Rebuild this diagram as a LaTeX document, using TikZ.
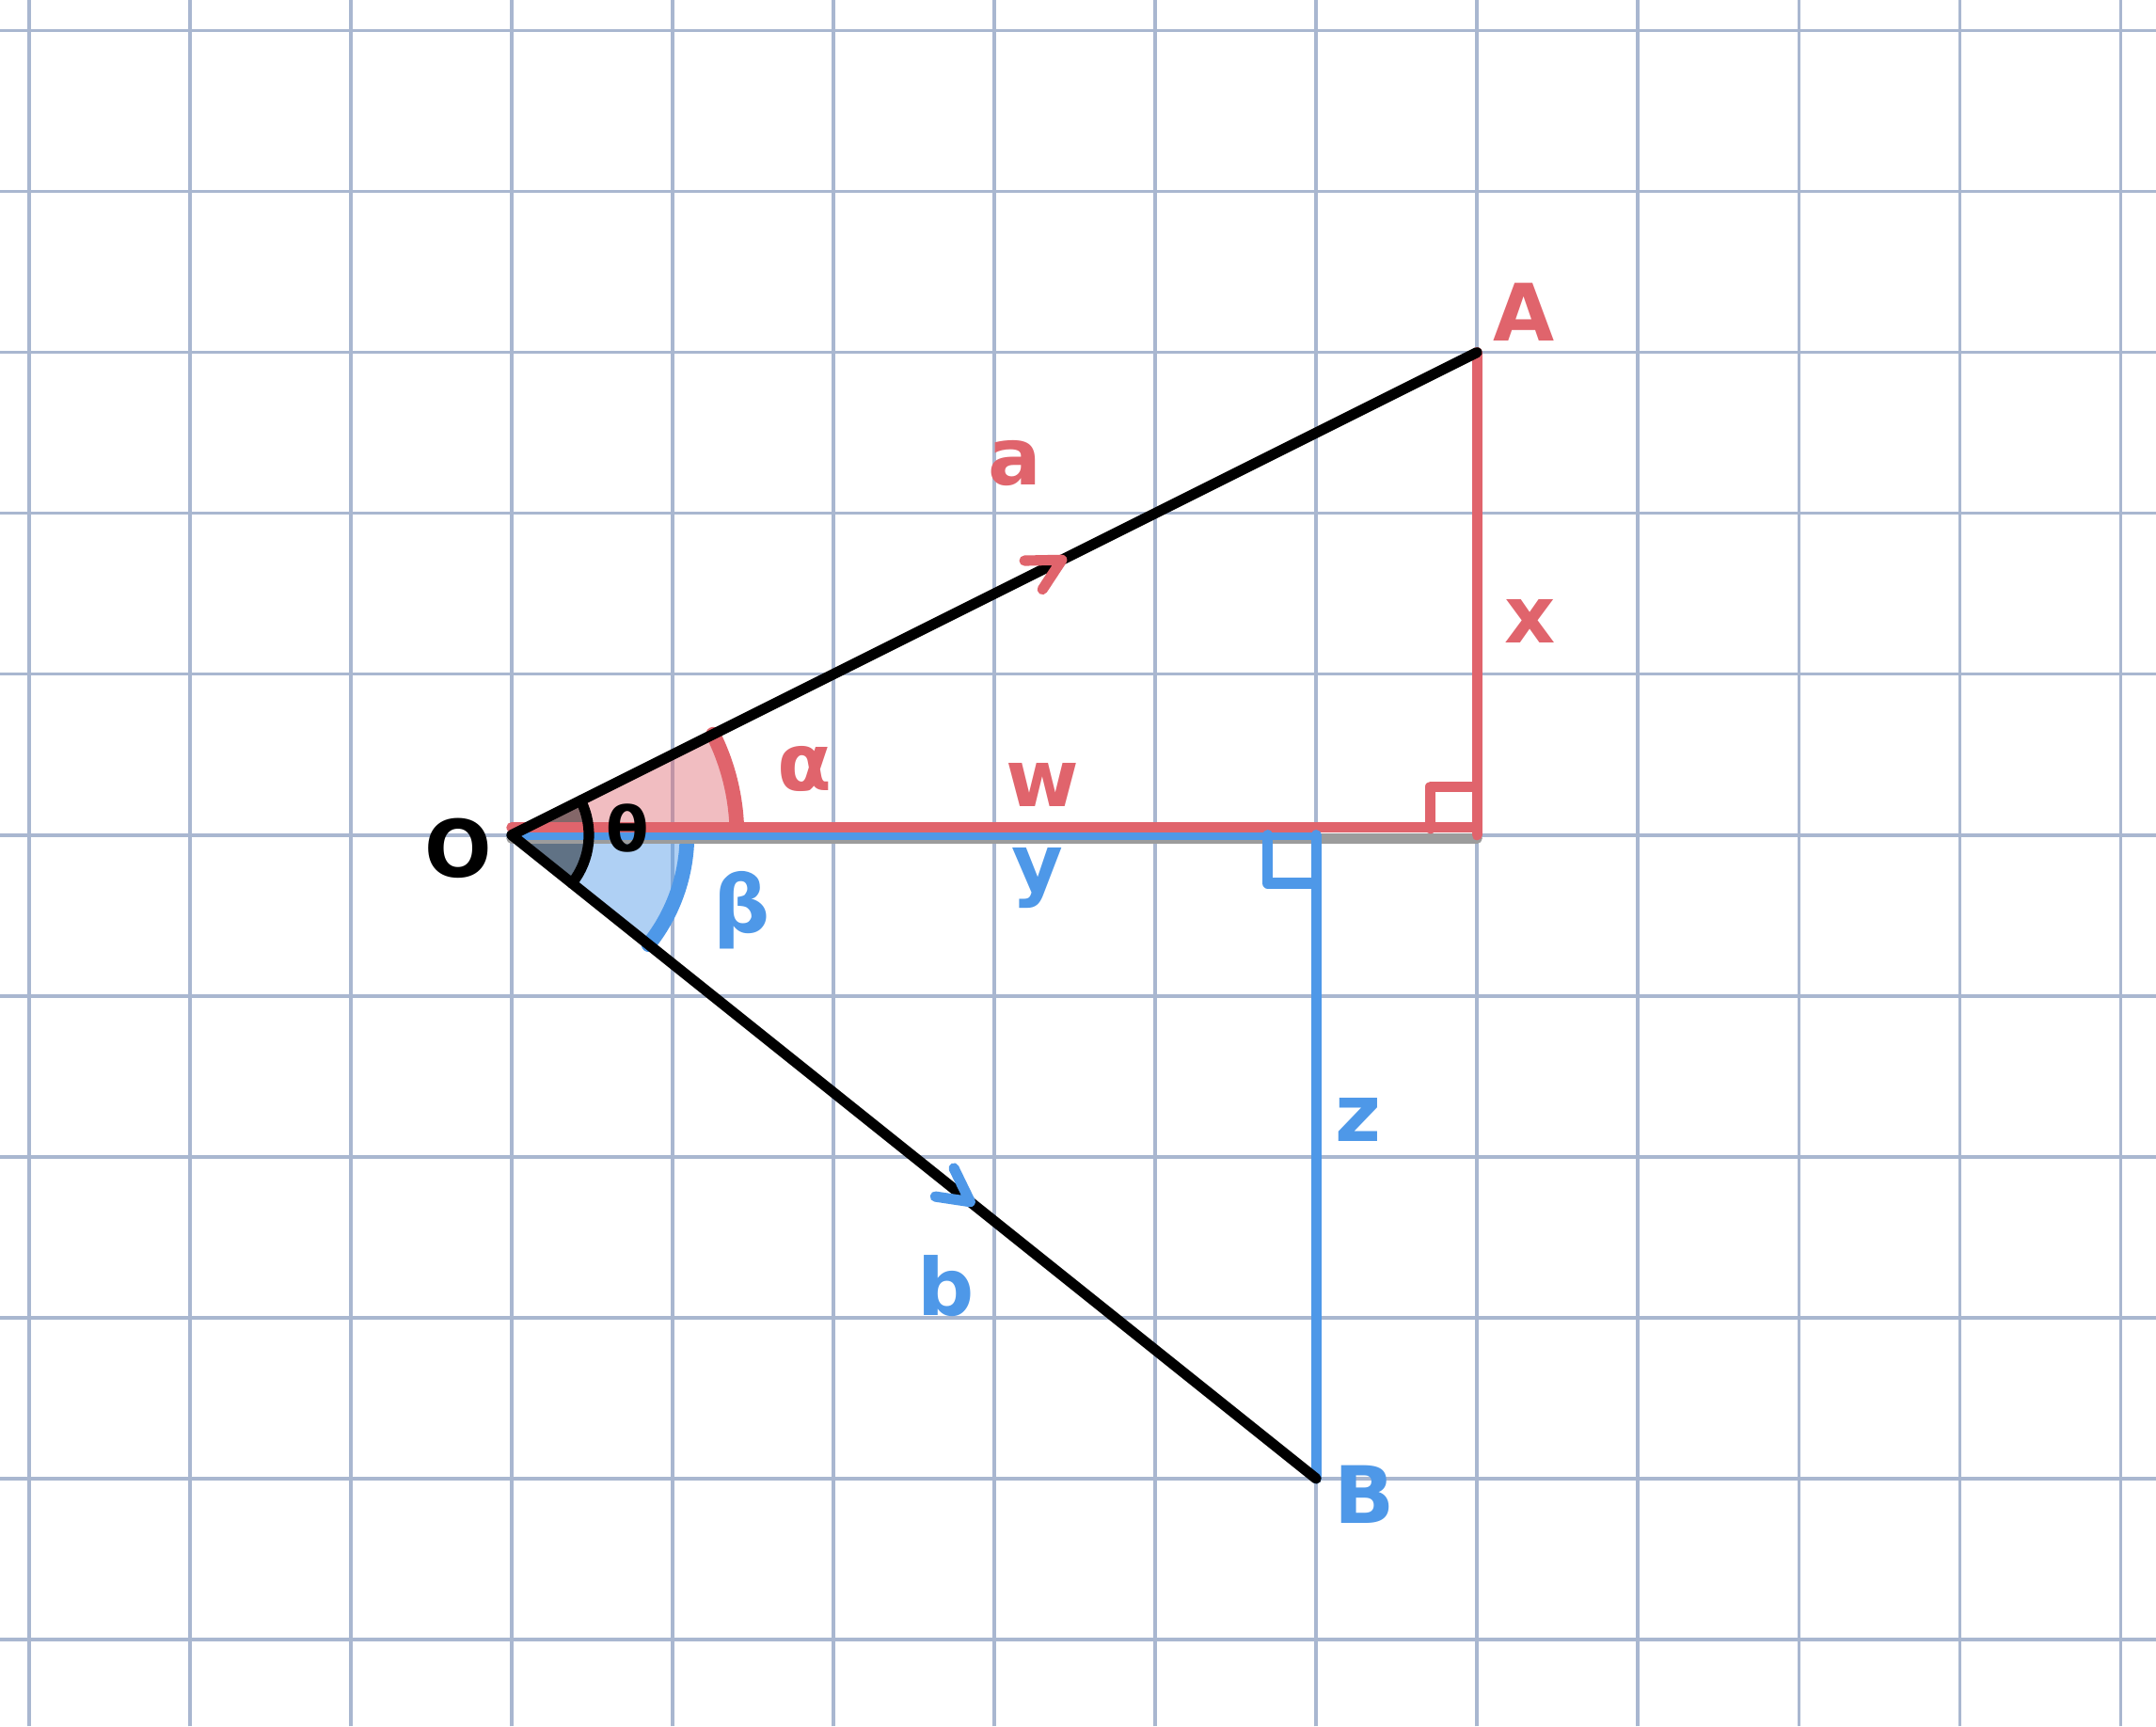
\documentclass[tikz,border=0pt]{standalone}
\usepackage{fontspec}
\setmainfont{DejaVu Sans}
\usepackage{xcolor}
\usetikzlibrary{angles,decorations.markings}
\definecolor{INKred}{HTML}{E0646C}
\definecolor{INKblue}{HTML}{4E98E8}
\definecolor{INKgrid}{HTML}{A9B7D0}
\definecolor{INKgrey}{HTML}{9C9C9C}
\tikzset{
  gridline/.style={draw=INKgrid, line width=0.6pt},
  pen/.style={line width=1.85pt, line cap=round, line join=round},
  vecline/.style={pen, draw=black},
  redpen/.style={pen, draw=INKred},
  bluepen/.style={pen, draw=INKblue},
  greypen/.style={pen, draw=INKgrey},
  lbl/.style={font=\fontsize{14}{16}\selectfont\bfseries, inner sep=1pt},
  redlbl/.style={lbl, text=INKred},
  bluelbl/.style={lbl, text=INKblue},
  vecarrow/.style={postaction={decorate, decoration={markings, mark=at position 0.57 with {\draw[pen, draw=#1] (-0.21,0.1) -- (0,0) -- (-0.19,-0.11);}}}},
  alphafill/.style={fill=INKred, fill opacity=0.42, angle radius=1.4cm},
  alphaarc/.style={redpen, line width=2.6pt, angle radius=1.4cm},
  betafill/.style={fill=INKblue, fill opacity=0.45, angle radius=1.09cm},
  betaarc/.style={bluepen, line width=2.6pt, angle radius=1.09cm},
  thetafill/.style={fill=black, fill opacity=0.45, angle radius=0.48cm},
  thetaarc/.style={vecline, angle radius=0.48cm}
}

\begin{document}
\begin{tikzpicture}
  \fill[white] (-0.18,-0.54) rectangle (13.22,10.19);
  \useasboundingbox (-0.18,-0.54) rectangle (13.22,10.19);
  \draw[gridline, step=1cm] (-0.18,-0.54) grid (13.22,10.19);

  % points
  \coordinate (O) at (3,5);
  \coordinate (A) at (9,8);
  \coordinate (B) at (8,1);
  \coordinate (Af) at (9,5);
  \coordinate (Bf) at (8,5);

  % angles
  \pic[alphafill] {angle = Af--O--A};
  \pic[betafill] {angle = B--O--Bf};
  \pic[thetafill] {angle = B--O--A};
  \pic[alphaarc] {angle = Af--O--A};
  \pic[betaarc] {angle = B--O--Bf};

  % projections
  \draw[greypen] ([yshift=-0.02cm]O) -- ([yshift=-0.02cm]Af);
  \draw[bluepen] (O) -- (Bf);
  \draw[redpen] ([yshift=0.047cm]O) -- ([yshift=0.047cm]Af);
  \draw[redpen] (A) -- (Af);
  \draw[bluepen] (Bf) -- (B);
  \draw[redpen] ([yshift=0.3cm]Af) -| ([xshift=-0.29cm,yshift=0.04cm]Af);
  \draw[bluepen] ([yshift=-0.3cm]Bf) -| ([xshift=-0.3cm]Bf);

  \pic[thetaarc] {angle = B--O--A};

  % vectors
  \draw[vecline, vecarrow=INKred] (O) -- (A);
  \draw[vecline, vecarrow=INKblue] (O) -- (B);

  % labels
  \node[lbl, font=\fontsize{11}{13}\selectfont\bfseries] (ltheta) at (3.72,5.04) {θ};
  \node[lbl] (lO) at (2.67,4.92) {O};
  \node[redlbl] (lalpha) at (4.82,5.41) {α};
  \node[bluelbl] (lbeta) at (4.43,4.53) {β};
  \node[redlbl] (la) at (6.13,7.31) {a};
  \node[redlbl] (lx) at (9.33,6.33) {x};
  \node[redlbl] (lw) at (6.30,5.31) {w};
  \node[bluelbl] (ly) at (6.27,4.73) {y};
  \node[bluelbl] (lz) at (8.26,3.23) {z};
  \node[bluelbl] (lb) at (5.70,2.20) {b};
  \node[redlbl] (lA) at (9.29,8.25) {A};
  \node[bluelbl] (lB) at (8.30,0.90) {B};
\end{tikzpicture}
\end{document}
